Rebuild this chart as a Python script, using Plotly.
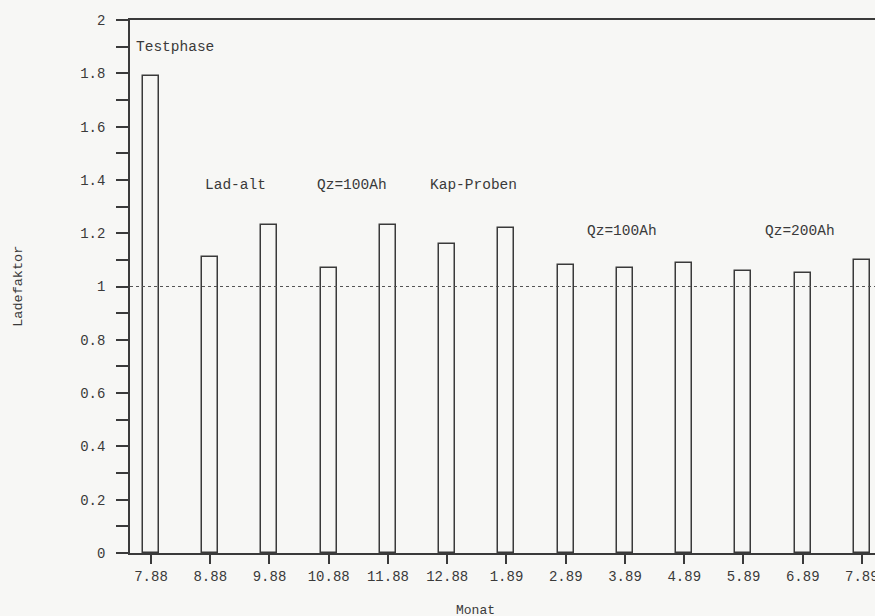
import plotly.graph_objects as go

# Monthly charge factor (Ladefaktor), July 1988 - July 1989
months = ["7.88", "8.88", "9.88", "10.88", "11.88", "12.88",
          "1.89", "2.89", "3.89", "4.89", "5.89", "6.89", "7.89"]
ladefaktor = [1.79, 1.11, 1.23, 1.07, 1.23, 1.16,
              1.22, 1.08, 1.07, 1.09, 1.06, 1.05, 1.10]

# Phase labels: text, x position (month index), y value
phase_text = ["Testphase", "Lad-alt", "Qz=100Ah", "Kap-Proben", "Qz=100Ah", "Qz=200Ah"]
phase_x = [-0.29, 0.88, 2.77, 4.68, 7.33, 10.33]
phase_y = [1.90, 1.38, 1.38, 1.38, 1.21, 1.21]

ytick_vals = [round(i * 0.1, 1) for i in range(21)]
ytick_text = [("%g" % v) if i % 2 == 0 else "" for i, v in enumerate(ytick_vals)]

INK = "#3a3a3a"
MONO = "Liberation Mono, DejaVu Sans Mono, monospace"
idx = list(range(len(months)))
X_RANGE = [-0.354, 12.22]

fig = go.Figure()
fig.add_trace(go.Bar(
    x=idx, y=ladefaktor, width=0.27,
    marker=dict(color="rgba(0,0,0,0)", line=dict(color=INK, width=1.5)),
    showlegend=False,
))

# reference level 1.0
fig.add_shape(type="line", xref="paper", x0=0, x1=1, yref="y", y0=1, y1=1,
              line=dict(color="#555555", width=1.2, dash="dot"), layer="above")

for t, xv, yv in zip(phase_text, phase_x, phase_y):
    fig.add_annotation(x=xv, y=yv, xref="x", yref="y", text=t, showarrow=False,
                       xanchor="left", yanchor="middle",
                       font=dict(family=MONO, size=14.5, color=INK))

# month labels that run past the right edge of the plot are written out
# as annotations so they are clipped rather than dropped
for i, m in enumerate(months):
    if i + 0.3 > X_RANGE[1]:
        fig.add_annotation(x=i, y=-0.045, xref="x", yref="paper", text=m,
                           showarrow=False, xanchor="center", yanchor="middle",
                           font=dict(family=MONO, size=14, color=INK))

fig.add_annotation(x=5.47, y=-0.107, xref="x", yref="paper", text="Monat",
                   showarrow=False, xanchor="center", yanchor="middle",
                   font=dict(family=MONO, size=13, color=INK))
fig.add_annotation(x=-0.150, y=1.0, xref="paper", yref="y", text="Ladefaktor",
                   textangle=-90, showarrow=False, xanchor="center", yanchor="middle",
                   font=dict(family=MONO, size=13.5, color=INK))

fig.update_layout(
    width=875, height=616,
    margin=dict(l=130, r=0, t=20, b=63),
    paper_bgcolor="#f7f7f5", plot_bgcolor="#f7f7f5",
    template="none",
    font=dict(family=MONO, size=14, color=INK),
    bargap=0,
)
fig.update_xaxes(
    range=X_RANGE, tickvals=idx, ticktext=months,
    showgrid=False, zeroline=False, automargin=False,
    showline=True, linecolor=INK, linewidth=1.6, mirror=True,
    ticks="outside", ticklen=9, tickcolor=INK, tickwidth=1.5,
    tickfont=dict(family=MONO, size=14, color=INK),
)
fig.update_yaxes(
    range=[0, 2], tickvals=ytick_vals, ticktext=ytick_text,
    showgrid=False, zeroline=False, automargin=False,
    showline=True, linecolor=INK, linewidth=1.6, mirror=False,
    ticks="outside", ticklen=12, tickcolor=INK, tickwidth=1.5,
    ticklabelstandoff=8,
    tickfont=dict(family=MONO, size=14, color=INK),
)

fig.write_html("out.html")
